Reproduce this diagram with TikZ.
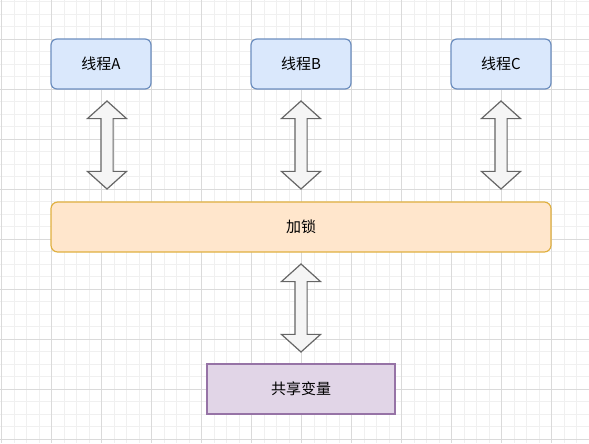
\documentclass[tikz,border=0pt]{standalone}
\usepackage{fontspec}
\newfontfamily\cjk{Noto Sans CJK SC}
\usepackage{xcolor}
\usepackage{tikz}
\usetikzlibrary{shapes.arrows}

\definecolor{gridminor}{HTML}{F0F0F0}
\definecolor{gridmajor}{HTML}{DADADA}
\definecolor{threadfill}{HTML}{DAE8FC}
\definecolor{threadline}{HTML}{6C8EBF}
\definecolor{lockfill}{HTML}{FFE6CC}
\definecolor{lockline}{HTML}{E0B040}
\definecolor{sharedfill}{HTML}{E1D5E7}
\definecolor{sharedline}{HTML}{9673A6}
\definecolor{arrowfill}{HTML}{F5F5F5}
\definecolor{arrowline}{HTML}{666666}

\begin{document}
\begin{tikzpicture}[x=0.75pt, y=-0.75pt,
    every node/.style={font=\cjk\fontsize{11.25}{13}\selectfont},
    thread/.style={draw=threadline, fill=threadfill, line width=0.9pt, rounded corners=4.5pt,
        minimum width=75pt, minimum height=37.5pt},
    lockbar/.style={draw=lockline, fill=lockfill, line width=0.9pt, rounded corners=5pt,
        minimum width=375pt, minimum height=37.5pt},
    sharedbox/.style={draw=sharedline, fill=sharedfill, line width=0.9pt,
        minimum width=141pt, minimum height=37.5pt},
    dblarrow/.style={shape=double arrow, draw=arrowline, fill=arrowfill, line width=0.9pt,
        rotate=90, inner xsep=0pt, inner ysep=4.125pt, minimum height=66pt, minimum width=28.5pt,
        double arrow head extend=10.1pt, double arrow tip angle=96}]
    \useasboundingbox (0,0) rectangle (589,443);

    % Grid
    \begin{scope}
        \clip (0,0) rectangle (589,443);
        \foreach \gx in {1.7,14.2,...,590} \draw[gridminor, line width=0.6pt] (\gx,0) -- (\gx,443);
        \foreach \gy in {1.5,14,...,444} \draw[gridminor, line width=0.6pt] (0,\gy) -- (589,\gy);
        \foreach \gx in {1.7,51.7,...,590} \draw[gridmajor, line width=0.6pt] (\gx,0) -- (\gx,443);
        \foreach \gy in {39,89,...,444} \draw[gridmajor, line width=0.6pt] (0,\gy) -- (589,\gy);
    \end{scope}

    % Threads
    \node[thread] (thA) at (101,64) {线程A};
    \node[thread] (thB) at (301,64) {线程B};
    \node[thread] (thC) at (501,64) {线程C};

    % Lock
    \node[lockbar] (lock) at (301,227) {加锁};

    % Shared variable
    \node[sharedbox] (shared) at (301,389) {共享变量};

    % Double arrows
    \node[dblarrow] (arrA) at (107,145) {};
    \node[dblarrow] (arrB) at (301,145) {};
    \node[dblarrow] (arrC) at (501,145) {};
    \node[dblarrow] (arrL) at (301,308) {};
\end{tikzpicture}
\end{document}
